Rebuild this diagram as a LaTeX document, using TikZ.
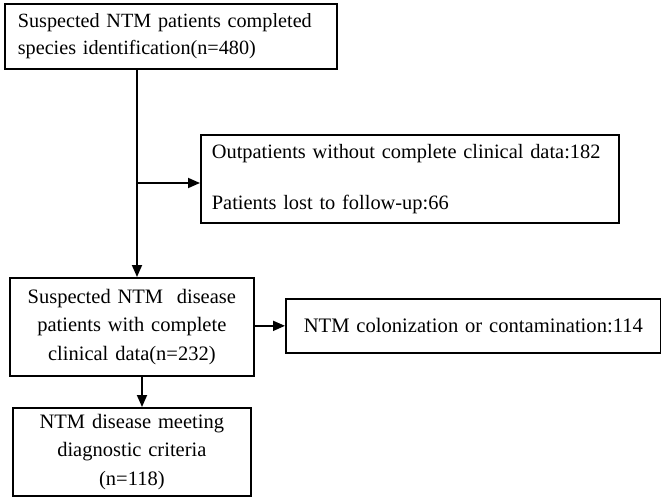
\documentclass[tikz,border=0pt]{standalone}
\usepackage{fontspec}
\setmainfont{Liberation Serif}
\usetikzlibrary{arrows.meta}
\tikzset{
  boxnode/.style={draw, line width=1.7pt, inner sep=0pt, anchor=north west, font=\fontsize{20.2}{27.5}\selectfont},
  flow/.style={line width=1.8pt, -{Triangle[length=12pt,width=10pt]}},
}
\begin{document}
\begin{tikzpicture}[x=1pt,y=-1pt]
\useasboundingbox (0,0) rectangle (661,500);
\node[boxnode, minimum width=332pt, minimum height=65pt, text width=306pt, inner xsep=13pt, align=left] (b1) at (4,3)
  {Suspected NTM patients completed\\species identification(n=480)};
\node[boxnode, minimum width=418pt, minimum height=88pt, text width=396pt, inner xsep=11pt, align=left, font=\fontsize{20.4}{27.5}\selectfont] (b2) at (200,134)
  {Outpatients without complete clinical data:182\\[24pt]Patients lost to follow-up:66};
\node[boxnode, minimum width=244pt, minimum height=98pt, text width=244pt, align=center, font=\fontsize{20.5}{28.5}\selectfont] (b3) at (9,277)
  {Suspected NTM \ disease\\patients with complete\\clinical data(n=232)};
\node[boxnode, minimum width=375pt, minimum height=54pt, text width=375pt, align=center, font=\fontsize{20.6}{27}\selectfont] (b4) at (285,298)
  {NTM colonization or contamination:114};
\node[boxnode, minimum width=238pt, minimum height=88pt, text width=238pt, align=center, font=\fontsize{20.5}{28.5}\selectfont] (b5) at (12,407)
  {NTM disease meeting\\diagnostic criteria\\(n=118)};
\coordinate (j) at (137,183);
\coordinate (k) at (142,390);
\draw[flow] (j |- b1.south) -- (j |- b3.north);
\draw[flow] (j) -- (b2.west |- j);
\draw[flow] (b3.east |- b4.west) -- (b4.west);
\draw[flow] (k |- b3.south) -- (k |- b5.north);
\end{tikzpicture}
\end{document}
